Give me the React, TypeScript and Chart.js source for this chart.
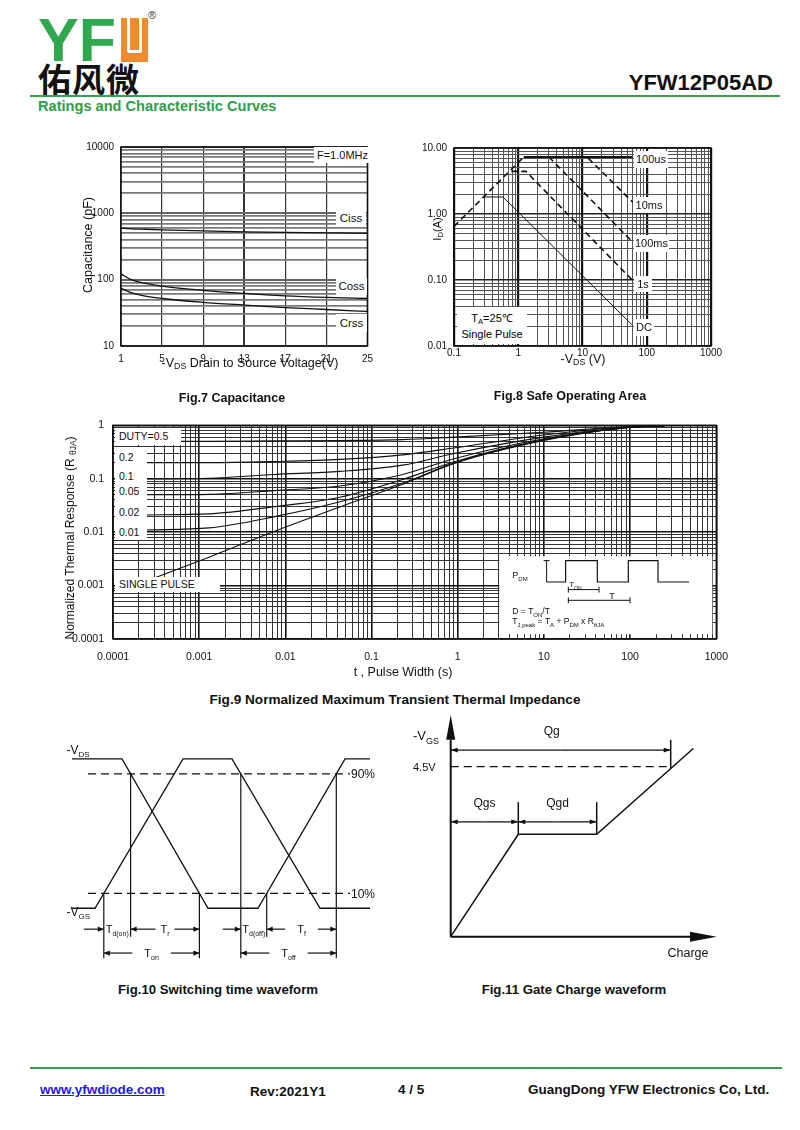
import React, { useEffect, useRef } from "react";
import { Chart, registerables } from "chart.js";

Chart.register(...registerables);

const FONT = "'Liberation Sans', Arial, Helvetica, sans-serif";
Chart.defaults.font.family = FONT;
Chart.defaults.color = "#111";

// ===================== Fig.7 Capacitance =====================
const capVds = [1, 2, 3, 5, 9, 13, 17, 21, 25];
const capCiss = [595, 585, 578, 565, 545, 527, 515, 506, 500];
const capCoss = [122, 100, 90, 80, 69, 62, 57, 54, 52];
const capCrss = [74, 64, 58, 52, 45.5, 41.4, 38, 35.5, 33.2];
const capXTicks = [1, 5, 9, 13, 17, 21, 25];
const capYLabelValues = [10, 100, 1000, 10000];
const capYLabels = ["10", "100", "1000", "10000"];

// ===================== Fig.8 Safe Operating Area =====================
const soaLimitV = [0.1, 1.22];
const soaLimitI = [0.65, 7.3];
const soa100usV = [1.22, 60];
const soa100usI = [7.3, 7.3];
const soa10msV = [12.3, 60];
const soa10msI = [7.0, 1.52];
const soa100msV = [3.0, 60];
const soa100msI = [7.3, 0.377];
const soa1sV = [0.78, 1.31, 60];
const soa1sI = [4.43, 4.43, 0.099];
const soaDcV = [0.3, 0.58, 60];
const soaDcI = [1.81, 1.81, 0.0206];
const soaXLabelValues = [0.1, 1, 10, 100, 1000];
const soaXLabels = ["0.1", "1", "10", "100", "1000"];
const soaYLabelValues = [0.01, 0.1, 1, 10];
const soaYLabels = ["0.01", "0.10", "1.00", "10.00"];

// ===================== Fig.9 Transient Thermal Impedance =====================
const zthTime = [2.4e-4, 1.3e-3, 7.5e-3, 0.043, 0.23, 0.93, 10, 90, 250];
const zthD050 = [0.5, 0.5, 0.51, 0.52, 0.54, 0.6, 0.74, 0.94, 0.98];
const zthD020 = [0.2, 0.2, 0.21, 0.23, 0.28, 0.38, 0.66, 0.93, 0.98];
const zthD010 = [0.1, 0.102, 0.12, 0.137, 0.18, 0.3, 0.6, 0.92, 0.98];
const zthD005 = [0.05, 0.051, 0.06, 0.073, 0.12, 0.24, 0.56, 0.91, 0.98];
const zthD002 = [0.021, 0.022, 0.03, 0.045, 0.097, 0.21, 0.54, 0.9, 0.98];
const zthD001 = [0.011, 0.012, 0.0195, 0.037, 0.083, 0.2, 0.53, 0.9, 0.98];
const zthSingle = [0.0012, 0.0034, 0.0104, 0.0297, 0.079, 0.195, 0.52, 0.9, 0.98];
const zthXLabelValues = [1e-4, 1e-3, 1e-2, 0.1, 1, 10, 100, 1000];
const zthXLabels = ["0.0001", "0.001", "0.01", "0.1", "1", "10", "100", "1000"];
const zthYLabelValues = [1e-4, 1e-3, 1e-2, 0.1, 1];
const zthYLabels = ["0.0001", "0.001", "0.01", "0.1", "1"];

// ===================== Fig.10 Switching waveform (time units, level %) =====================
const vgsTime = [2, 25, 113, 162, 250, 300];
const vgsLevel = [0, 0, 100, 100, 0, 0];
const vdsTime = [2, 52, 138, 188, 275, 300];
const vdsLevel = [100, 100, 0, 0, 100, 100];
const swRefTime = [18, 280];
const swHi = 90;
const swLo = 10;

// ===================== Fig.11 Gate charge waveform (charge units, volts) =====================
const gcCurveQ = [0, 67.6, 146, 242.6];
const gcCurveV = [0, 2.71, 2.71, 4.98];
const gcQgs = 67.6;
const gcQgdEnd = 146;
const gcQg = 220;
const gcDrive = 4.5;

// ---------------- helpers ----------------
const zip = (xs: number[], ys: number[]) => xs.map((x, i) => ({ x, y: ys[i] }));

function logGrid(lo: number, hi: number): number[] {
  const out: number[] = [];
  for (let e = lo; e < hi; e++)
    for (let m = 1; m < 10; m++) out.push(parseFloat((m * Math.pow(10, e)).toPrecision(6)));
  out.push(parseFloat(Math.pow(10, hi).toPrecision(6)));
  return out;
}
const isDecade = (v: number) => Math.abs(Math.log10(v) - Math.round(Math.log10(v))) < 1e-6;
function labelFor(values: number[], labels: string[], v: number) {
  for (let i = 0; i < values.length; i++) if (Math.abs(v / values[i] - 1) < 1e-6) return labels[i];
  return "";
}

type Seg = { t: string; s?: boolean };
function drawRich(ctx: CanvasRenderingContext2D, segs: Seg[], x: number, y: number, size: number, align: "left" | "center" | "right", weight = "normal") {
  const sub = Math.round(size * 0.68);
  const ws = segs.map((sg) => {
    ctx.font = `${weight} ${sg.s ? sub : size}px ${FONT}`;
    return ctx.measureText(sg.t).width;
  });
  const w = ws.reduce((a, b) => a + b, 0);
  let cx = align === "left" ? x : align === "center" ? x - w / 2 : x - w;
  ctx.textAlign = "left";
  ctx.textBaseline = "alphabetic";
  segs.forEach((sg, i) => {
    ctx.font = `${weight} ${sg.s ? sub : size}px ${FONT}`;
    ctx.fillText(sg.t, cx, y + (sg.s ? size * 0.28 : 0));
    cx += ws[i];
  });
  return w;
}
function arrowH(ctx: CanvasRenderingContext2D, x1: number, x2: number, y: number, head = 6, half = 2.6) {
  ctx.beginPath();
  ctx.moveTo(x1, y);
  ctx.lineTo(x2, y);
  ctx.stroke();
  const d = x2 > x1 ? 1 : -1;
  ctx.beginPath();
  ctx.moveTo(x2, y);
  ctx.lineTo(x2 - d * head, y - half);
  ctx.lineTo(x2 - d * head, y + half);
  ctx.closePath();
  ctx.fill();
}
function crossing(xs: number[], ys: number[], level: number, rising: boolean) {
  for (let i = 0; i < xs.length - 1; i++) {
    const y0 = ys[i], y1 = ys[i + 1];
    if (rising ? y0 < level && y1 >= level : y0 > level && y1 <= level)
      return xs[i] + ((level - y0) / (y1 - y0)) * (xs[i + 1] - xs[i]);
  }
  return NaN;
}

const framePlugin = {
  id: "frame",
  afterDraw(chart: any) {
    const { ctx, chartArea: a } = chart;
    ctx.save();
    ctx.strokeStyle = "#111";
    ctx.lineWidth = 1.5;
    ctx.strokeRect(a.left, a.top, a.right - a.left, a.bottom - a.top);
    ctx.restore();
  },
};

function logScale(o: any) {
  return {
    type: "logarithmic",
    min: o.min,
    max: o.max,
    afterBuildTicks: (s: any) => {
      s.ticks = o.grid.map((v: number) => ({ value: v }));
    },
    afterFit: o.fit,
    ticks: {
      autoSkip: false,
      maxRotation: 0,
      minRotation: 0,
      padding: o.pad,
      font: { size: o.font },
      color: "#111",
      callback: (v: any) => labelFor(o.lv, o.lt, Number(v)),
    },
    grid: {
      drawTicks: false,
      color: (c: any) => (c.tick && isDecade(c.tick.value) ? o.major : o.minor),
      lineWidth: (c: any) => (c.tick && isDecade(c.tick.value) ? o.majorW : o.minorW),
    },
    border: { display: false },
  };
}

const baseOpts = {
  responsive: false,
  animation: false,
  devicePixelRatio: 1,
  events: [],
};
const noPlug = { legend: { display: false }, tooltip: { enabled: false } };
const line = (data: any, width: number, dash: number[] = [], smooth = false) => ({
  data,
  borderColor: "#111",
  borderWidth: width,
  borderDash: dash,
  pointRadius: 0,
  fill: false,
  cubicInterpolationMode: smooth ? "monotone" : "default",
});

// ---------------- chart configs ----------------
function capConfig(): any {
  return {
    type: "line",
    data: {
      datasets: [
        line(zip(capVds, capCiss), 1.3, [], true),
        line(zip(capVds, capCoss), 1.3, [], true),
        line(zip(capVds, capCrss), 1.3, [], true),
      ],
    },
    options: {
      ...baseOpts,
      layout: { padding: { left: 0, top: 10, right: 8, bottom: 0 } },
      plugins: noPlug,
      scales: {
        x: {
          type: "linear",
          min: 1,
          max: 25,
          afterBuildTicks: (s: any) => {
            s.ticks = capXTicks.map((v) => ({ value: v }));
          },
          afterFit: (s: any) => {
            s.height = 28;
          },
          ticks: { autoSkip: false, maxRotation: 0, padding: 7, font: { size: 10 }, color: "#111", callback: (v: any) => String(v) },
          grid: { drawTicks: false, color: "#333", lineWidth: (c: any) => (c.tick && c.tick.value === 13 ? 2 : 1.2) },
          border: { display: false },
        },
        y: logScale({
          min: 10,
          max: 10000,
          grid: logGrid(1, 4),
          lv: capYLabelValues,
          lt: capYLabels,
          fit: (s: any) => {
            s.width = 51;
          },
          pad: 7,
          font: 10,
          minor: "#7a7a7a",
          major: "#666",
          minorW: 1.8,
          majorW: 2,
        }),
      },
    },
    plugins: [framePlugin],
  };
}

function soaConfig(): any {
  return {
    type: "line",
    data: {
      datasets: [
        line(zip(soaLimitV, soaLimitI), 1.6, [6, 4]),
        line(zip(soa100usV, soa100usI), 1.8),
        line(zip(soa10msV, soa10msI), 1.6, [6, 4]),
        line(zip(soa100msV, soa100msI), 1.6, [6, 4]),
        line(zip(soa1sV, soa1sI), 1.6, [6, 4]),
        line(zip(soaDcV, soaDcI), 1.0),
      ],
    },
    options: {
      ...baseOpts,
      layout: { padding: { left: 0, top: 13, right: 19, bottom: 0 } },
      plugins: noPlug,
      scales: {
        x: logScale({
          min: 0.1,
          max: 1000,
          grid: logGrid(-1, 3),
          lv: soaXLabelValues,
          lt: soaXLabels,
          fit: (s: any) => {
            s.height = 29;
          },
          pad: 1,
          font: 10,
          minor: "#555",
          major: "#111",
          minorW: 1,
          majorW: 2.2,
        }),
        y: logScale({
          min: 0.01,
          max: 10,
          grid: logGrid(-2, 1),
          lv: soaYLabelValues,
          lt: soaYLabels,
          fit: (s: any) => {
            s.width = 54;
          },
          pad: 7,
          font: 10,
          minor: "#555",
          major: "#222",
          minorW: 1,
          majorW: 1.6,
        }),
      },
    },
    plugins: [framePlugin],
  };
}

const zthInsetPlugin = {
  id: "zthInset",
  afterDraw(chart: any) {
    const { ctx, chartArea: a } = chart;
    const L = a.right - 217;
    const T = a.top + 131;
    ctx.save();
    ctx.fillStyle = "#fff";
    ctx.fillRect(L, T, 213, 78);
    ctx.strokeStyle = "#111";
    ctx.fillStyle = "#111";
    ctx.lineWidth = 1.2;
    // pulse train
    const hi = T + 4.3, lo = T + 25.7;
    const edges = [47.3, 66.3, 98, 129, 158.7, 189.7];
    ctx.beginPath();
    ctx.moveTo(L + edges[0], lo);
    ctx.lineTo(L + edges[1], lo);
    ctx.lineTo(L + edges[1], hi);
    ctx.lineTo(L + edges[2], hi);
    ctx.lineTo(L + edges[2], lo);
    ctx.lineTo(L + edges[3], lo);
    ctx.lineTo(L + edges[3], hi);
    ctx.lineTo(L + edges[4], hi);
    ctx.lineTo(L + edges[4], lo);
    ctx.lineTo(L + edges[5], lo);
    ctx.stroke();
    // amplitude marker
    ctx.lineWidth = 1;
    ctx.beginPath();
    ctx.moveTo(L + edges[0], hi);
    ctx.lineTo(L + edges[0], lo);
    ctx.moveTo(L + edges[0] - 3, hi);
    ctx.lineTo(L + edges[0] + 3, hi);
    ctx.stroke();
    // TON and T dimension lines
    const dim = (x1: number, x2: number, y: number) => {
      ctx.beginPath();
      ctx.moveTo(L + x1, T + y);
      ctx.lineTo(L + x2, T + y);
      ctx.moveTo(L + x1, T + y - 3);
      ctx.lineTo(L + x1, T + y + 3);
      ctx.moveTo(L + x2, T + y - 3);
      ctx.lineTo(L + x2, T + y + 3);
      ctx.stroke();
    };
    dim(69, 99.7, 33.3);
    dim(69, 130.7, 44);
    drawRich(ctx, [{ t: "P" }, { t: "DM", s: true }], L + 13, T + 22, 9, "left");
    drawRich(ctx, [{ t: "T" }, { t: "ON", s: true }], L + 70, T + 31, 8, "left");
    drawRich(ctx, [{ t: "T" }], L + 110, T + 42.5, 9, "left");
    drawRich(ctx, [{ t: "D = T" }, { t: "ON", s: true }, { t: "/T" }], L + 13, T + 58, 8.5, "left");
    drawRich(
      ctx,
      [{ t: "T" }, { t: "J,peak", s: true }, { t: " = T" }, { t: "A", s: true }, { t: " + P" }, { t: "DM", s: true }, { t: " x R" }, { t: "θJA", s: true }],
      L + 13,
      T + 68,
      8.5,
      "left"
    );
    ctx.restore();
  },
};

function zthConfig(): any {
  return {
    type: "line",
    data: {
      datasets: [zthD050, zthD020, zthD010, zthD005, zthD002, zthD001, zthSingle].map((ys) =>
        line(zip(zthTime, ys), 1.1, [], true)
      ),
    },
    options: {
      ...baseOpts,
      layout: { padding: { left: 0, top: 9, right: 16, bottom: 0 } },
      plugins: noPlug,
      scales: {
        x: logScale({
          min: 1e-4,
          max: 1000,
          grid: logGrid(-4, 3),
          lv: zthXLabelValues,
          lt: zthXLabels,
          fit: (s: any) => {
            s.height = 33;
          },
          pad: 12,
          font: 10.5,
          minor: "#333",
          major: "#111",
          minorW: 1,
          majorW: 1.6,
        }),
        y: logScale({
          min: 1e-4,
          max: 1,
          grid: logGrid(-4, 0),
          lv: zthYLabelValues,
          lt: zthYLabels,
          fit: (s: any) => {
            s.width = 63;
          },
          pad: 9,
          font: 10.5,
          minor: "#333",
          major: "#111",
          minorW: 1,
          majorW: 1.6,
        }),
      },
    },
    plugins: [framePlugin, zthInsetPlugin],
  };
}

const switchPlugin = {
  id: "switchAnno",
  afterDatasetsDraw(chart: any) {
    const { ctx, scales } = chart;
    const X = (v: number) => scales.x.getPixelForValue(v);
    const Y = (v: number) => scales.y.getPixelForValue(v);
    const t1 = crossing(vgsTime, vgsLevel, swLo, true);
    const t2 = crossing(vdsTime, vdsLevel, swHi, false);
    const t3 = crossing(vdsTime, vdsLevel, swLo, false);
    const t4 = crossing(vgsTime, vgsLevel, swHi, false);
    const t5 = crossing(vdsTime, vdsLevel, swLo, true);
    const t6 = crossing(vdsTime, vdsLevel, swHi, true);
    const row1 = -14, row2 = -30, row1End = -19, row2End = -33.5;
    ctx.save();
    ctx.strokeStyle = "#111";
    ctx.fillStyle = "#111";
    ctx.lineWidth = 1.2;
    const v = (t: number, a: number, b: number) => {
      ctx.beginPath();
      ctx.moveTo(X(t), Y(a));
      ctx.lineTo(X(t), Y(b));
      ctx.stroke();
    };
    v(t1, swLo, row2End);
    v(t2, swHi, row1End);
    v(t3, swLo, row2End);
    v(t4, swHi, row2End);
    v(t5, swLo, row1End);
    v(t6, swHi, row2End);
    const y1 = Y(row1), y2 = Y(row2);
    arrowH(ctx, X(t1) - 20, X(t1), y1);
    drawRich(ctx, [{ t: "T" }, { t: "d(on)", s: true }], (X(t1) + X(t2)) / 2, y1 + 4, 11, "center");
    let c = (X(t2) + X(t3)) / 2;
    let w = drawRich(ctx, [{ t: "T" }, { t: "r", s: true }], c, y1 + 4, 11, "center");
    arrowH(ctx, c - w / 2 - 5, X(t2), y1);
    arrowH(ctx, c + w / 2 + 5, X(t3), y1);
    arrowH(ctx, X(t4) - 18, X(t4), y1);
    drawRich(ctx, [{ t: "T" }, { t: "d(off)", s: true }], (X(t4) + X(t5)) / 2, y1 + 4, 11, "center");
    c = (X(t5) + X(t6)) / 2;
    w = drawRich(ctx, [{ t: "T" }, { t: "f", s: true }], c, y1 + 4, 11, "center");
    arrowH(ctx, c - w / 2 - 12, X(t5), y1);
    arrowH(ctx, c + w / 2 + 12, X(t6), y1);
    c = (X(t1) + X(t3)) / 2;
    w = drawRich(ctx, [{ t: "T" }, { t: "on", s: true }], c, y2 + 4, 11, "center");
    arrowH(ctx, c - w / 2 - 12, X(t1), y2);
    arrowH(ctx, c + w / 2 + 12, X(t3), y2);
    c = (X(t4) + X(t6)) / 2;
    w = drawRich(ctx, [{ t: "T" }, { t: "off", s: true }], c, y2 + 4, 11, "center");
    arrowH(ctx, c - w / 2 - 12, X(t4), y2);
    arrowH(ctx, c + w / 2 + 12, X(t6), y2);
    // level labels
    ctx.font = `12px ${FONT}`;
    ctx.textAlign = "left";
    ctx.textBaseline = "middle";
    ctx.fillText("90%", X(swRefTime[1]) + 1, Y(swHi) + 1);
    ctx.fillText("10%", X(swRefTime[1]) + 1, Y(swLo) + 1);
    drawRich(ctx, [{ t: "-V" }, { t: "DS", s: true }], X(-3.5), Y(103.5), 12, "left");
    drawRich(ctx, [{ t: "-V" }, { t: "GS", s: true }], X(-3.5), Y(-5), 12, "left");
    ctx.restore();
  },
};

function switchConfig(): any {
  return {
    type: "line",
    data: {
      datasets: [
        line(zip(vgsTime, vgsLevel), 1.3),
        line(zip(vdsTime, vdsLevel), 1.3),
        line(zip(swRefTime, [swHi, swHi]), 1.3, [8, 5]),
        line(zip(swRefTime, [swLo, swLo]), 1.3, [8, 5]),
      ],
    },
    options: {
      ...baseOpts,
      layout: { padding: 0 },
      plugins: noPlug,
      scales: {
        x: { type: "linear", min: -30, max: 330, display: false },
        y: { type: "linear", min: -38, max: 112.7, display: false },
      },
    },
    plugins: [switchPlugin],
  };
}

const gatePlugin = {
  id: "gateAnno",
  afterDatasetsDraw(chart: any) {
    const { ctx, scales } = chart;
    const X = (v: number) => scales.x.getPixelForValue(v);
    const Y = (v: number) => scales.y.getPixelForValue(v);
    ctx.save();
    ctx.strokeStyle = "#111";
    ctx.fillStyle = "#111";
    // axes with heads
    ctx.lineWidth = 2;
    ctx.beginPath();
    ctx.moveTo(X(0), Y(0));
    ctx.lineTo(X(0), Y(5.21));
    ctx.moveTo(X(0), Y(0));
    ctx.lineTo(X(239.3), Y(0));
    ctx.stroke();
    ctx.beginPath();
    ctx.moveTo(X(0), Y(5.87));
    ctx.lineTo(X(0) - 4.5, Y(5.21));
    ctx.lineTo(X(0) + 4.5, Y(5.21));
    ctx.closePath();
    ctx.fill();
    ctx.beginPath();
    ctx.moveTo(X(266), Y(0));
    ctx.lineTo(X(239.3), Y(0) - 5);
    ctx.lineTo(X(239.3), Y(0) + 5);
    ctx.closePath();
    ctx.fill();
    // dimension arrows
    ctx.lineWidth = 1.2;
    const both = (a: number, b: number, v: number) => {
      arrowH(ctx, (X(a) + X(b)) / 2, X(a), Y(v), 7, 2.4);
      arrowH(ctx, (X(a) + X(b)) / 2, X(b), Y(v), 7, 2.4);
    };
    both(0, gcQg, 4.94);
    both(0, gcQgs, 3.04);
    both(gcQgs, gcQgdEnd, 3.04);
    const vm = (q: number, a: number, b: number) => {
      ctx.beginPath();
      ctx.moveTo(X(q), Y(a));
      ctx.lineTo(X(q), Y(b));
      ctx.stroke();
    };
    ctx.lineWidth = 1.5;
    vm(gcQg, 5.21, 4.45);
    vm(gcQgs, 3.56, 2.71);
    vm(gcQgdEnd, 3.56, 2.71);
    drawRich(ctx, [{ t: "Qg" }], X(101), Y(5.33), 12, "center");
    drawRich(ctx, [{ t: "Qgs" }], X(gcQgs / 2), Y(3.43), 12, "center");
    drawRich(ctx, [{ t: "Qgd" }], X((gcQgs + gcQgdEnd) / 2), Y(3.43), 12, "center");
    drawRich(ctx, [{ t: "Charge" }], X(237.3), Y(-0.54), 12.5, "center");
    drawRich(ctx, [{ t: "4.5V" }], X(-37.7), Y(gcDrive) + 4, 11, "left");
    drawRich(ctx, [{ t: "-V" }, { t: "GS", s: true }], X(-37.7), Y(5.2), 13, "left");
    ctx.restore();
  },
};

function gateConfig(): any {
  return {
    type: "line",
    data: {
      datasets: [
        line(zip(gcCurveQ, gcCurveV), 1.5),
        line(zip([0, gcQg], [gcDrive, gcDrive]), 1.3, [8, 5]),
      ],
    },
    options: {
      ...baseOpts,
      layout: { padding: 0 },
      plugins: noPlug,
      scales: {
        x: { type: "linear", min: -50.7, max: 279.3, display: false },
        y: { type: "linear", min: -0.75, max: 6.0, display: false },
      },
    },
    plugins: [gatePlugin],
  };
}

// ---------------- React components ----------------
function ChartBox({ left, top, width, height, make }: { left: number; top: number; width: number; height: number; make: () => any }) {
  const ref = useRef<HTMLCanvasElement>(null);
  useEffect(() => {
    const chart = new Chart(ref.current as HTMLCanvasElement, make());
    return () => chart.destroy();
  }, []);
  return <canvas ref={ref} width={width} height={height} style={{ position: "absolute", left, top, width, height }} />;
}

function Txt({ x, y, w, h, size = 11, bold = false, align = "center", bg, children, color = "#111", rotate = false }: any) {
  const style: React.CSSProperties = {
    position: "absolute",
    left: x,
    top: y,
    width: w,
    height: h,
    lineHeight: `${h}px`,
    fontSize: size,
    fontWeight: bold ? 700 : 400,
    textAlign: align,
    background: bg,
    color,
    whiteSpace: "nowrap",
    fontFamily: FONT,
    transform: rotate ? "rotate(-90deg)" : undefined,
  };
  return <div style={style}>{children}</div>;
}

const subStyle: React.CSSProperties = { fontSize: "0.7em", verticalAlign: "-0.25em", lineHeight: 0 };
const footStyle: React.CSSProperties = { position: "absolute", top: 1082, fontSize: 13.5, fontWeight: 700, color: "#111", lineHeight: "16px" };

export default function App() {
  return (
    <div style={{ position: "absolute", left: 0, top: 0, width: 800, height: 1130, background: "#fff", fontFamily: FONT, overflow: "hidden" }}>
      {/* Header */}
      <div style={{ position: "absolute", left: 38, top: 10, fontSize: 61, lineHeight: "61px", fontWeight: 700, color: "#2fa84f", fontFamily: FONT }}>YF</div>
      <div style={{ position: "absolute", left: 121, top: 18, width: 27, height: 44, background: "#ef8a2e" }}>
        <div style={{ position: "absolute", left: 6, top: -1, width: 9, height: 33, border: "3px solid #fff", borderTop: "none", borderRadius: "0 0 3px 3px" }} />
      </div>
      <div style={{ position: "absolute", left: 148, top: 9, fontSize: 11, color: "#333" }}>®</div>
      <div style={{ position: "absolute", left: 38, top: 59, fontSize: 33, lineHeight: "38px", fontFamily: "'Noto Sans CJK SC', sans-serif", fontWeight: 700, color: "#111", letterSpacing: 1 }}>佑风微</div>
      <div style={{ position: "absolute", right: 27, top: 71, fontSize: 22, fontWeight: 700, color: "#111", lineHeight: "24px" }}>YFW12P05AD</div>
      <div style={{ position: "absolute", left: 30, top: 95, width: 750, height: 2, background: "#3a9d50" }} />
      <div style={{ position: "absolute", left: 38, top: 98, fontSize: 14.6, fontWeight: 700, color: "#2e9e48", lineHeight: "16px" }}>Ratings and Characteristic Curves</div>

      {/* Fig.7 */}
      <ChartBox left={70} top={134} width={310} height={240} make={capConfig} />
      <Txt x={314} y={147} w={57} h={16} size={11} bg="#fff">F=1.0MHz</Txt>
      <Txt x={336} y={210} w={30} h={17} size={11.5} bg="#fff">Ciss</Txt>
      <Txt x={336} y={278} w={31} h={17} size={11.5} bg="#fff">Coss</Txt>
      <Txt x={336} y={314} w={31} h={18} size={11.5} bg="#fff">Crss</Txt>
      <Txt x={18} y={237} w={140} h={16} size={12.5} rotate>Capacitance (pF)</Txt>
      <Txt x={150} y={355} w={200} h={16} size={12.5}>
        -V<span style={subStyle}>DS</span> Drain to Source Voltage(V)
      </Txt>
      <Txt x={132} y={390} w={200} h={16} size={12.5} bold>Fig.7 Capacitance</Txt>

      {/* Fig.8 */}
      <ChartBox left={400} top={135} width={330} height={240} make={soaConfig} />
      <Txt x={634} y={151} w={34} h={17} size={11} bg="#fff">100us</Txt>
      <Txt x={634} y={197} w={30} h={16} size={11} bg="#fff">10ms</Txt>
      <Txt x={634} y={235} w={35} h={17} size={11} bg="#fff">100ms</Txt>
      <Txt x={634} y={276} w={18} h={16} size={11} bg="#fff">1s</Txt>
      <Txt x={634} y={319} w={20} h={17} size={11} bg="#fff">DC</Txt>
      <div style={{ position: "absolute", left: 457, top: 307, width: 70, height: 37, background: "#fff", fontSize: 11, textAlign: "center", lineHeight: "16px", paddingTop: 3, boxSizing: "border-box" }}>
        <div>
          T<span style={subStyle}>A</span>=25℃
        </div>
        <div>Single Pulse</div>
      </div>
      <Txt x={414} y={222} w={46} h={14} size={11} rotate>
        I<span style={subStyle}>D</span>(A)
      </Txt>
      <Txt x={533} y={351} w={100} h={16} size={12.5}>
        -V<span style={subStyle}>DS</span> (V)
      </Txt>
      <Txt x={470} y={388} w={200} h={16} size={12.5} bold>Fig.8 Safe Operating Area</Txt>

      {/* Fig.9 */}
      <ChartBox left={50} top={410} width={690} height={262} make={zthConfig} />
      <Txt x={115} y={428} w={66} h={17} size={10.5} bg="#fff" align="left">
        <span style={{ paddingLeft: 4 }}>DUTY=0.5</span>
      </Txt>
      <div style={{ position: "absolute", left: 115, top: 447, width: 32, height: 93, background: "#fff" }} />
      <Txt x={119} y={450} w={28} h={14} size={10.5} align="left">0.2</Txt>
      <Txt x={119} y={469} w={28} h={14} size={10.5} align="left">0.1</Txt>
      <Txt x={119} y={484} w={28} h={14} size={10.5} align="left">0.05</Txt>
      <Txt x={119} y={505} w={28} h={14} size={10.5} align="left">0.02</Txt>
      <Txt x={119} y={525} w={28} h={14} size={10.5} align="left">0.01</Txt>
      <Txt x={115} y={577} w={105} h={15} size={10.5} bg="#fff" align="left">
        <span style={{ paddingLeft: 4 }}>SINGLE PULSE</span>
      </Txt>
      <Txt x={-50} y={530} w={240} h={16} size={12} rotate>
        Normalized Thermal Response (R <span style={subStyle}>θJA</span>)
      </Txt>
      <Txt x={303} y={664} w={200} h={16} size={12.5}>t , Pulse Width (s)</Txt>
      <Txt x={145} y={692} w={500} h={16} size={13.6} bold>Fig.9 Normalized Maximum Transient Thermal Impedance</Txt>

      {/* Fig.10 */}
      <ChartBox left={40} top={740} width={360} height={225} make={switchConfig} />
      <Txt x={93} y={982} w={250} h={16} size={13.2} bold>Fig.10 Switching time waveform</Txt>

      {/* Fig.11 */}
      <ChartBox left={400} top={710} width={330} height={255} make={gateConfig} />
      <Txt x={449} y={982} w={250} h={16} size={13.2} bold>Fig.11 Gate Charge waveform</Txt>

      {/* Footer */}
      <div style={{ position: "absolute", left: 30, top: 1067, width: 752, height: 2, background: "#3a9d50" }} />
      <div style={{ ...footStyle, left: 40, color: "#1a1aee", textDecoration: "underline" }}>www.yfwdiode.com</div>
      <div style={{ ...footStyle, left: 250, top: 1084 }}>Rev:2021Y1</div>
      <div style={{ ...footStyle, left: 398 }}>4 / 5</div>
      <div style={{ ...footStyle, left: 528 }}>GuangDong YFW Electronics Co, Ltd.</div>
    </div>
  );
}
